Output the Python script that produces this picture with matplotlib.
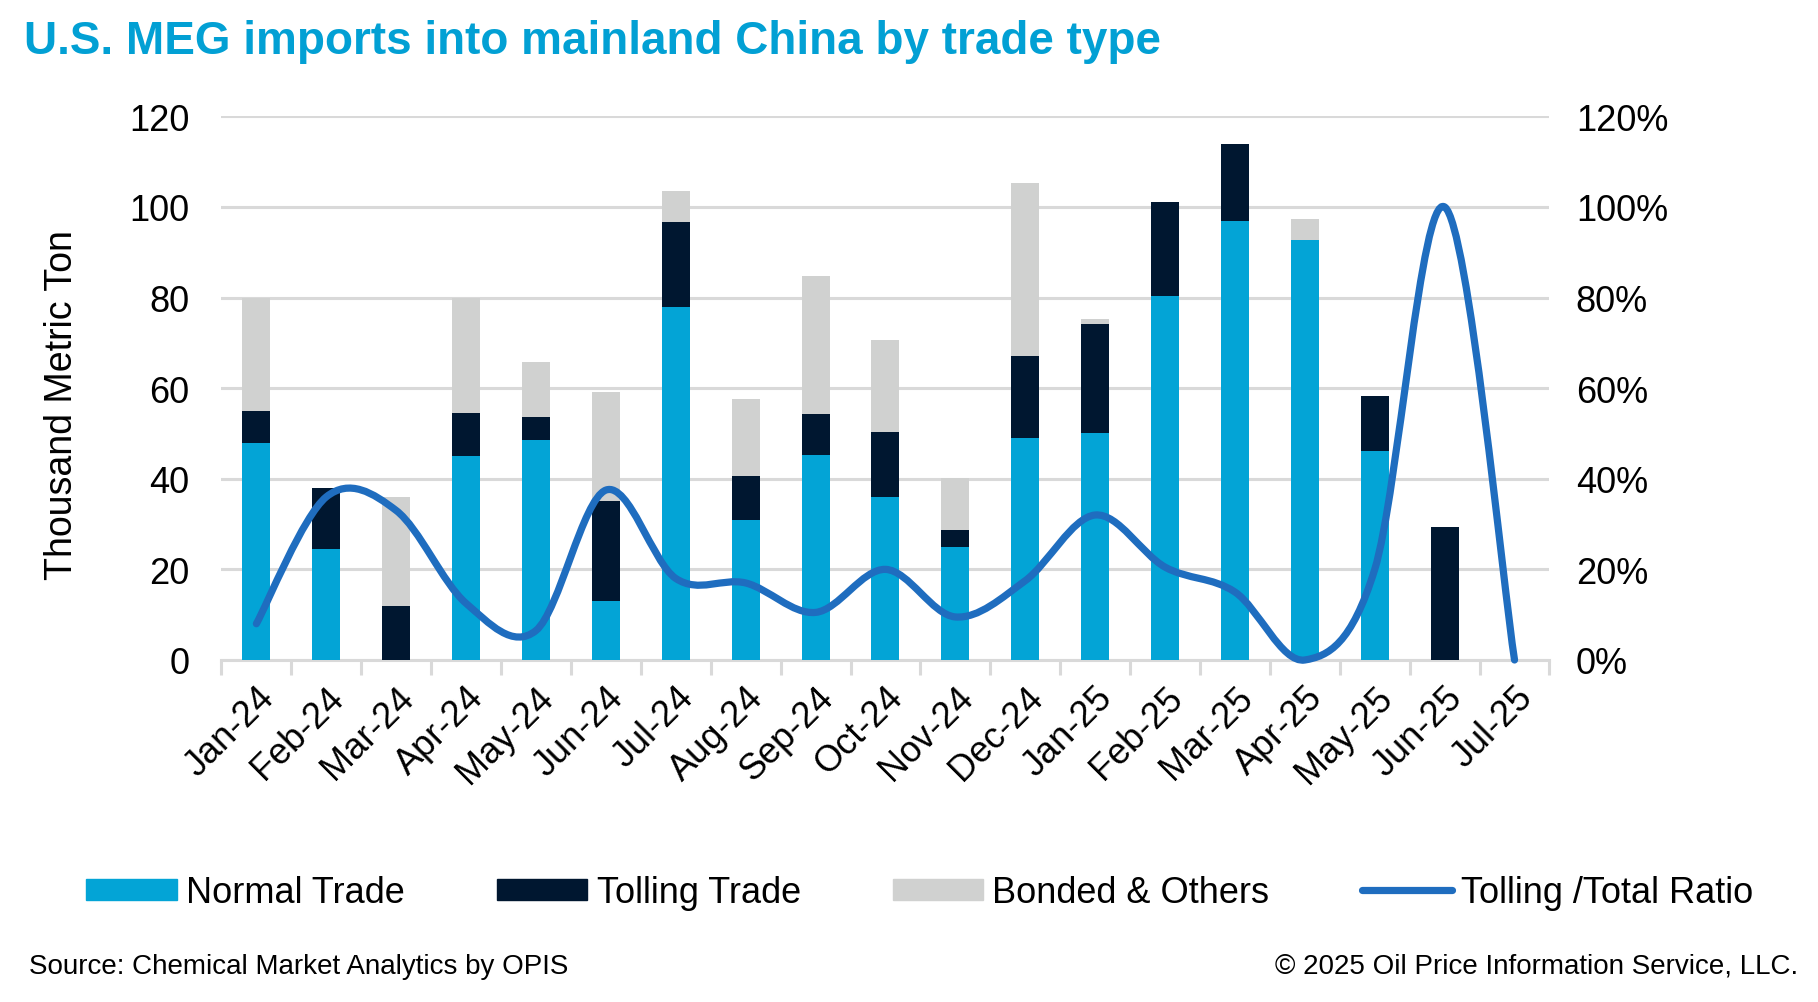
import numpy as np
import matplotlib
matplotlib.use("Agg")
import matplotlib.pyplot as plt
from matplotlib.path import Path
from matplotlib.patches import PathPatch, Patch
from matplotlib.lines import Line2D
from matplotlib.ticker import FuncFormatter, MultipleLocator

plt.rcParams['font.family'] = ['Liberation Sans', 'DejaVu Sans']

# data (thousand metric ton)
months = ['Jan-24', 'Feb-24', 'Mar-24', 'Apr-24', 'May-24', 'Jun-24', 'Jul-24', 'Aug-24',
          'Sep-24', 'Oct-24', 'Nov-24', 'Dec-24', 'Jan-25', 'Feb-25', 'Mar-25', 'Apr-25',
          'May-25', 'Jun-25', 'Jul-25']
normal = [48, 24.5, 0, 45, 48.5, 13, 78, 31, 45.3, 36, 25, 49, 50, 80.3, 97, 92.6, 46.2, 0, 0]
tolling = [7, 13.5, 12, 9.5, 5.2, 22, 18.7, 9.6, 9.1, 14.4, 3.6, 18.2, 24.2, 20.7, 16.8, 0, 12, 29.3, 0]
bonded = [25, 0, 24, 25.5, 12, 24.2, 6.9, 17.1, 30.3, 20.3, 11.6, 38.1, 1, 0.2, 0, 4.8, 0, 0, 0]
ratio = [8, 36, 33, 12.5, 6.5, 37.5, 18, 17, 10.5, 20, 9.5, 17.5, 32, 20.5, 15, 0, 20, 100, 0]  # %

c_normal = '#03a4d6'
c_tolling = '#001730'
c_bonded = '#d0d1d0'
c_line = '#1f6dbf'
c_grid = '#d9d9d9'
FS = 26

fig = plt.figure(figsize=(18.18, 10.03), dpi=100)
ax = fig.add_axes([0.1218, 0.341, 0.7305, 0.542])

x = np.arange(len(months))
normal = np.array(normal)
tolling = np.array(tolling)
bonded = np.array(bonded)
w = 0.4
ax.bar(x, normal, w, color=c_normal, zorder=2)
ax.bar(x, tolling, w, bottom=normal, color=c_tolling, zorder=2)
ax.bar(x, bonded, w, bottom=normal + tolling, color=c_bonded, zorder=2)

ax.set_xlim(-0.5, len(months) - 0.5)
ax.set_ylim(0, 120)
ax.yaxis.set_major_locator(MultipleLocator(20))
ax.grid(axis='y', color=c_grid, lw=2.2, zorder=0)
ax.set_axisbelow(True)
for s in ['top', 'left', 'right']:
    ax.spines[s].set_visible(False)
ax.spines['bottom'].set_color(c_grid)
ax.spines['bottom'].set_linewidth(2.2)
ax.spines['bottom'].set_zorder(1)

# category labels at centres, tick marks between categories
ax.set_xticks(x)
ax.set_xticklabels(months, rotation=45, ha='right', rotation_mode='anchor', fontsize=FS)
ax.tick_params(axis='x', which='major', length=0, pad=14)
ax.set_xticks(np.arange(len(months) + 1) - 0.5, minor=True)
ax.tick_params(axis='x', which='minor', length=11, width=2.2, color=c_grid, direction='out')
ax.tick_params(axis='y', length=0, labelsize=FS, pad=23)

fig.text(0.034, 0.596, 'Thousand Metric Ton', fontsize=27, rotation=90, va='center', ha='center')

# right axis with the ratio line (smoothed like Excel)
ax2 = ax.twinx()
ax2.set_ylim(0, 120)
ax2.yaxis.set_major_locator(MultipleLocator(20))
ax2.yaxis.set_major_formatter(FuncFormatter(lambda v, p: f'{v:.0f}%'))
ax2.tick_params(axis='y', length=0, labelsize=FS, pad=19)
for s in ['top', 'left', 'right', 'bottom']:
    ax2.spines[s].set_visible(False)

pts = np.column_stack([x, ratio]).astype(float)
verts = [pts[0]]
codes = [Path.MOVETO]
n = len(pts)
for i in range(n - 1):
    p0 = pts[i - 1] if i > 0 else pts[i]
    p1 = pts[i]
    p2 = pts[i + 1]
    p3 = pts[i + 2] if i + 2 < n else pts[i + 1]
    verts += [p1 + (p2 - p0) / 6, p2 - (p3 - p1) / 6, p2]
    codes += [Path.CURVE4] * 3
ax2.add_patch(PathPatch(Path(verts, codes), fill=False, edgecolor=c_line, lw=5.2,
                        capstyle='round', joinstyle='round', zorder=3, clip_on=False))

fig.text(0.013, 0.958, 'U.S. MEG imports into mainland China by trade type', color='#02a0d4',
         fontsize=33, fontweight='bold', va='center', ha='left')

handles = [Patch(color=c_normal), Patch(color=c_tolling), Patch(color=c_bonded),
           Line2D([0], [0], color=c_line, lw=5.2, solid_capstyle='round')]
labels = ['Normal Trade', 'Tolling Trade', 'Bonded & Others', 'Tolling /Total Ratio']
fig.legend(handles, labels, loc='center', bbox_to_anchor=(0.506, 0.109), ncol=4, frameon=False,
           fontsize=FS, handlelength=2.5, handleheight=0.55, handletextpad=0.26, columnspacing=2.55)

fig.text(0.016, 0.036, 'Source: Chemical Market Analytics by OPIS', fontsize=20, va='center', ha='left')
fig.text(0.989, 0.036, '\u00a9 2025 Oil Price Information Service, LLC.', fontsize=20, va='center', ha='right')

fig.savefig('out.png', dpi=100)
